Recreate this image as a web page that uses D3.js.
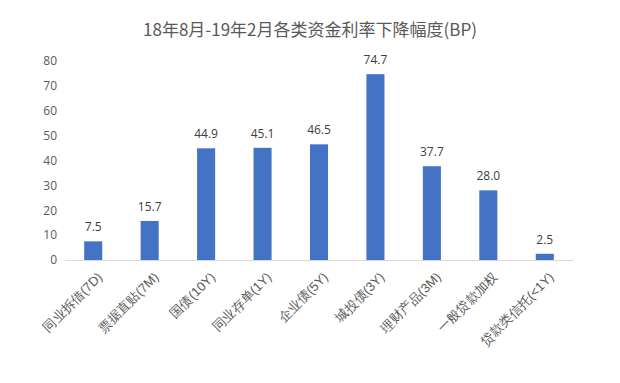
<!DOCTYPE html>
<html>
<head>
<meta charset="utf-8">
<script src="https://cdn.jsdelivr.net/npm/d3@7"></script>
<style>
  body { margin: 0; background: #fff; }
  svg { font-family: "Noto Sans CJK SC", "Noto Sans", sans-serif; }
</style>
</head>
<body>
<svg width="620" height="383"></svg>
<script>
// chart data
const categories = ["同业拆借(7D)", "票据直贴(7M)", "国债(10Y)", "同业存单(1Y)", "企业债(5Y)",
  "城投债(3Y)", "理财产品(3M)", "一般贷款加权", "贷款类信托(<1Y)"];
const values = [7.5, 15.7, 44.9, 45.1, 46.5, 74.7, 37.7, 28.0, 2.5];
const yTicks = [0, 10, 20, 30, 40, 50, 60, 70, 80];

const svg = d3.select("svg");
const margin = { top: 61, left: 65, right: 47, bottom: 123 };
const width = 620 - margin.left - margin.right;
const height = 383 - margin.top - margin.bottom;

const g = svg.append("g")
  .attr("transform", `translate(${margin.left},${margin.top})`);

const x = d3.scaleBand().domain(categories).range([0, width]).paddingInner(0.68).paddingOuter(0.34);
const y = d3.scaleLinear().domain([0, 80]).range([height, 0]);

// title
svg.append("text")
  .attr("x", 310)
  .attr("y", 36)
  .attr("text-anchor", "middle")
  .attr("font-size", 17)
  .attr("fill", "#595959")
  .text("18年8月-19年2月各类资金利率下降幅度(BP)");

// y axis (no line, labels only)
const yAxis = g.append("g")
  .call(d3.axisLeft(y).tickValues(yTicks).tickSize(0).tickPadding(8));
yAxis.select(".domain").remove();
yAxis.selectAll("text")
  .attr("font-size", 12)
  .attr("fill", "#595959")
  .style("font-family", "'Open Sans', sans-serif");

// x axis
const xAxis = g.append("g")
  .attr("transform", `translate(0,${height})`)
  .call(d3.axisBottom(x).tickSize(0).tickPadding(8));
xAxis.select(".domain").attr("stroke", "#d9d9d9");
xAxis.selectAll("text")
  .attr("font-size", 13)
  .attr("fill", "#595959")
  .attr("text-anchor", "end")
  .attr("dy", "0.35em")
  .attr("transform", "translate(1,9) rotate(-45)");

// bars
g.selectAll("rect.bar")
  .data(values)
  .enter()
  .append("rect")
  .attr("class", "bar")
  .attr("x", (d, i) => x(categories[i]))
  .attr("y", (d) => y(d))
  .attr("width", x.bandwidth())
  .attr("height", (d) => height - y(d))
  .attr("fill", "#4472c4");

// value labels
g.selectAll("text.val")
  .data(values)
  .enter()
  .append("text")
  .attr("class", "val")
  .attr("x", (d, i) => x(categories[i]) + x.bandwidth() / 2)
  .attr("y", (d) => y(d) - 10)
  .attr("text-anchor", "middle")
  .attr("font-size", 12)
  .attr("fill", "#404040")
  .style("font-family", "'Open Sans', sans-serif")
  .text((d) => d.toFixed(1));
</script>
</body>
</html>
